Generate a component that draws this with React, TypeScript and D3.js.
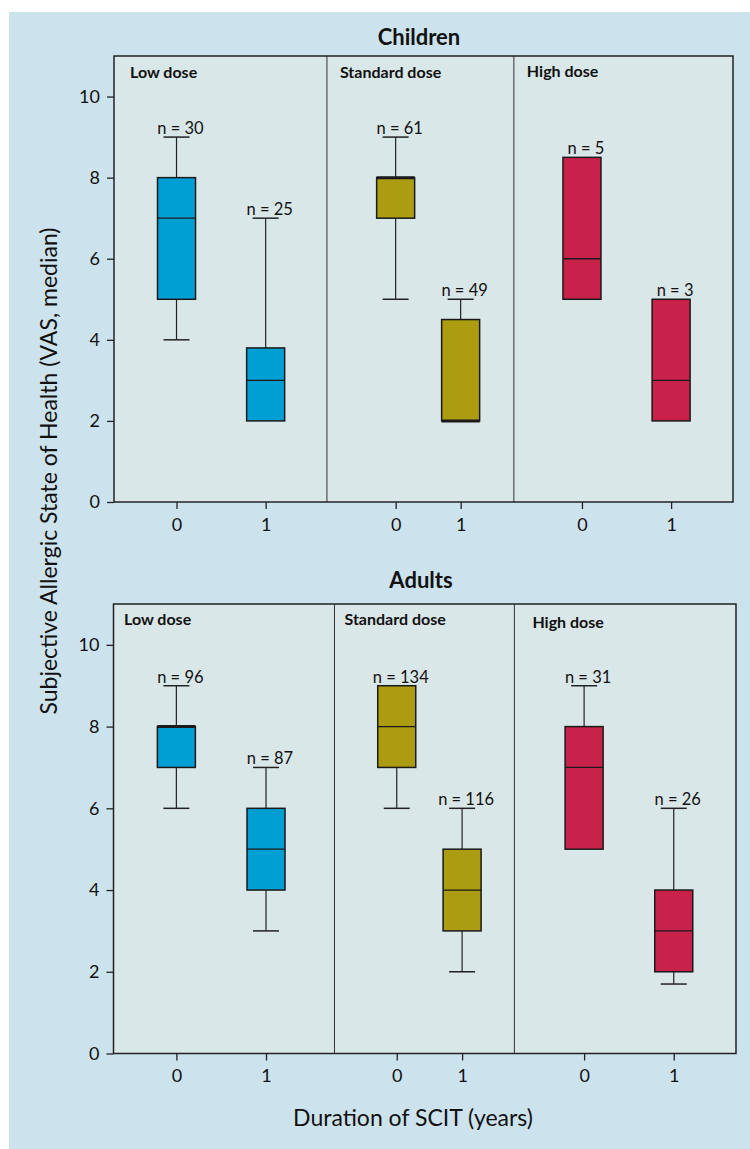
import React, { useEffect, useRef } from "react";
import * as d3 from "d3";

// categories
const doses = ["Low dose", "Standard dose", "High dose"];
const years = ["0", "1", "0", "1", "0", "1"];
const yTicks = [0, 2, 4, 6, 8, 10];

// children: one value per box (low 0, low 1, std 0, std 1, high 0, high 1)
const childrenN = [30, 25, 61, 49, 5, 3];
const childrenMin = [4, 2, 5, 2, 5, 2];
const childrenQ1 = [5, 2, 7, 2, 5, 2];
const childrenMedian = [7, 3, 8, 2, 6, 3];
const childrenQ3 = [8, 3.8, 8, 4.5, 8.5, 5];
const childrenMax = [9, 7, 9, 5, 8.5, 5];

// adults
const adultsN = [96, 87, 134, 116, 31, 26];
const adultsMin = [6, 3, 6, 2, 5, 1.7];
const adultsQ1 = [7, 4, 7, 3, 5, 2];
const adultsMedian = [8, 5, 8, 4, 7, 3];
const adultsQ3 = [8, 6, 9, 5, 8, 4];
const adultsMax = [9, 7, 9, 6, 9, 6];

const doseColors = ["#009fd3", "#ab9c12", "#c8224a"];
const OUTER_BG = "#cce3ee";
const PANEL_BG = "#d9e7e8";
const FONT = "Lato, 'Open Sans', sans-serif";

// layout: box centres and panel dividers in % of the plot width
const boxPos = [10.1, 24.5, 45.5, 56, 75.6, 90];

const panels = [
  {
    title: "Children",
    titleX: 419,
    titleY: 45,
    left: 114,
    right: 733,
    top: 56,
    bottom: 502,
    dividers: [34.4, 64.6],
    labelDx: [16, 13, 13],
    labelY: [78, 78, 77],
    n: childrenN,
    min: childrenMin,
    q1: childrenQ1,
    median: childrenMedian,
    q3: childrenQ3,
    max: childrenMax,
  },
  {
    title: "Adults",
    titleX: 421,
    titleY: 588,
    left: 113.5,
    right: 736,
    top: 604,
    bottom: 1053.5,
    dividers: [35.5, 64.4],
    labelDx: [10.5, 10, 18],
    labelY: [625, 625, 628],
    n: adultsN,
    min: adultsMin,
    q1: adultsQ1,
    median: adultsMedian,
    q3: adultsQ3,
    max: adultsMax,
  },
];

const App = () => {
  const svgRef = useRef<SVGSVGElement>(null);

  useEffect(() => {
    const svg = d3.select(svgRef.current);
    svg.selectAll("*").remove();

    svg
      .append("rect")
      .attr("x", 9)
      .attr("y", 12)
      .attr("width", 741)
      .attr("height", 1137)
      .attr("fill", OUTER_BG);

    panels.forEach((p) => {
      const x = d3.scaleLinear().domain([0, 100]).range([p.left, p.right]);
      const y = d3.scaleLinear().domain([0, 11]).range([p.bottom, p.top]);
      const g = svg.append("g");

      g.append("rect")
        .attr("x", p.left)
        .attr("y", p.top)
        .attr("width", p.right - p.left)
        .attr("height", p.bottom - p.top)
        .attr("fill", PANEL_BG);

      // dividers between dose groups
      g.selectAll(".divider")
        .data(p.dividers)
        .enter()
        .append("line")
        .attr("x1", (d) => x(d))
        .attr("x2", (d) => x(d))
        .attr("y1", p.top)
        .attr("y2", p.bottom)
        .attr("stroke", "#333")
        .attr("stroke-width", 1);

      // dose labels
      const starts = [0, ...p.dividers];
      g.selectAll(".dose")
        .data(doses)
        .enter()
        .append("text")
        .attr("x", (d, i) => x(starts[i]) + p.labelDx[i])
        .attr("y", (d, i) => p.labelY[i])
        .attr("font-family", FONT)
        .attr("font-weight", "bold")
        .attr("font-size", 16)
        .attr("fill", "#111")
        .text((d) => d);

      const boxW = 38;
      const capW = 26;
      const idx = d3.range(boxPos.length);
      const cx = (i) => x(boxPos[i]);

      // whiskers
      idx.forEach((i) => {
        const wg = g.append("g").attr("stroke", "#222");
        if (p.max[i] > p.q3[i]) {
          wg.append("line")
            .attr("x1", cx(i))
            .attr("x2", cx(i))
            .attr("y1", y(p.q3[i]))
            .attr("y2", y(p.max[i]))
            .attr("stroke-width", 1.2);
          wg.append("line")
            .attr("x1", cx(i) - capW / 2)
            .attr("x2", cx(i) + capW / 2)
            .attr("y1", y(p.max[i]))
            .attr("y2", y(p.max[i]))
            .attr("stroke-width", 1.5);
        }
        if (p.min[i] < p.q1[i]) {
          wg.append("line")
            .attr("x1", cx(i))
            .attr("x2", cx(i))
            .attr("y1", y(p.q1[i]))
            .attr("y2", y(p.min[i]))
            .attr("stroke-width", 1.2);
          wg.append("line")
            .attr("x1", cx(i) - capW / 2)
            .attr("x2", cx(i) + capW / 2)
            .attr("y1", y(p.min[i]))
            .attr("y2", y(p.min[i]))
            .attr("stroke-width", 1.5);
        }
      });

      // boxes
      g.selectAll(".box")
        .data(idx)
        .enter()
        .append("rect")
        .attr("x", (i) => cx(i) - boxW / 2)
        .attr("y", (i) => y(p.q3[i]))
        .attr("width", boxW)
        .attr("height", (i) => y(p.q1[i]) - y(p.q3[i]))
        .attr("fill", (i) => doseColors[Math.floor(i / 2)])
        .attr("stroke", "#1a1a1a")
        .attr("stroke-width", 1.5);

      // medians
      g.selectAll(".median")
        .data(idx)
        .enter()
        .append("line")
        .attr("x1", (i) => cx(i) - boxW / 2)
        .attr("x2", (i) => cx(i) + boxW / 2)
        .attr("y1", (i) => y(p.median[i]))
        .attr("y2", (i) => y(p.median[i]))
        .attr("stroke", "#1a1a1a")
        .attr("stroke-width", (i) =>
          p.median[i] === p.q1[i] || p.median[i] === p.q3[i] ? 3 : 1.3
        );

      // n labels
      g.selectAll(".nlab")
        .data(idx)
        .enter()
        .append("text")
        .attr("x", (i) => cx(i) + 4)
        .attr("y", (i) => y(p.max[i]) - 3)
        .attr("text-anchor", "middle")
        .attr("font-family", FONT)
        .attr("font-size", 16.5)
        .attr("fill", "#111")
        .text((i) => `n = ${p.n[i]}`);

      // frame
      g.append("rect")
        .attr("x", p.left)
        .attr("y", p.top)
        .attr("width", p.right - p.left)
        .attr("height", p.bottom - p.top)
        .attr("fill", "none")
        .attr("stroke", "#222")
        .attr("stroke-width", 1.5);

      // axes
      const yAxis = g
        .append("g")
        .attr("transform", `translate(${p.left},0)`)
        .call(d3.axisLeft(y).tickValues(yTicks).tickSize(7).tickPadding(7));
      const xAxis = g
        .append("g")
        .attr("transform", `translate(0,${p.bottom})`)
        .call(
          d3
            .axisBottom(x)
            .tickValues(boxPos)
            .tickFormat((d, i) => years[i])
            .tickSize(7)
            .tickPadding(9)
        );
      [yAxis, xAxis].forEach((a) => {
        a.select(".domain").remove();
        a.selectAll("line").attr("stroke", "#222").attr("stroke-width", 1.3);
        a.selectAll("text")
          .attr("font-family", FONT)
          .attr("font-size", 18)
          .attr("fill", "#111");
      });

      g.append("text")
        .attr("x", p.titleX)
        .attr("y", p.titleY)
        .attr("text-anchor", "middle")
        .attr("font-family", FONT)
        .attr("font-weight", "bold")
        .attr("font-size", 22)
        .attr("fill", "#111")
        .text(p.title);
    });

    svg
      .append("text")
      .attr("transform", "translate(57,471) rotate(-90)")
      .attr("text-anchor", "middle")
      .attr("font-family", FONT)
      .attr("font-size", 23)
      .attr("fill", "#111")
      .text("Subjective Allergic State of Health (VAS, median)");

    svg
      .append("text")
      .attr("x", 413)
      .attr("y", 1126)
      .attr("text-anchor", "middle")
      .attr("font-family", FONT)
      .attr("font-size", 23)
      .attr("fill", "#111")
      .text("Duration of SCIT (years)");
  }, []);

  return (
    <svg
      ref={svgRef}
      width="750"
      height="1149"
      style={{ position: "absolute", left: 0, top: 0, background: "#fff" }}
    ></svg>
  );
};

export default App;
